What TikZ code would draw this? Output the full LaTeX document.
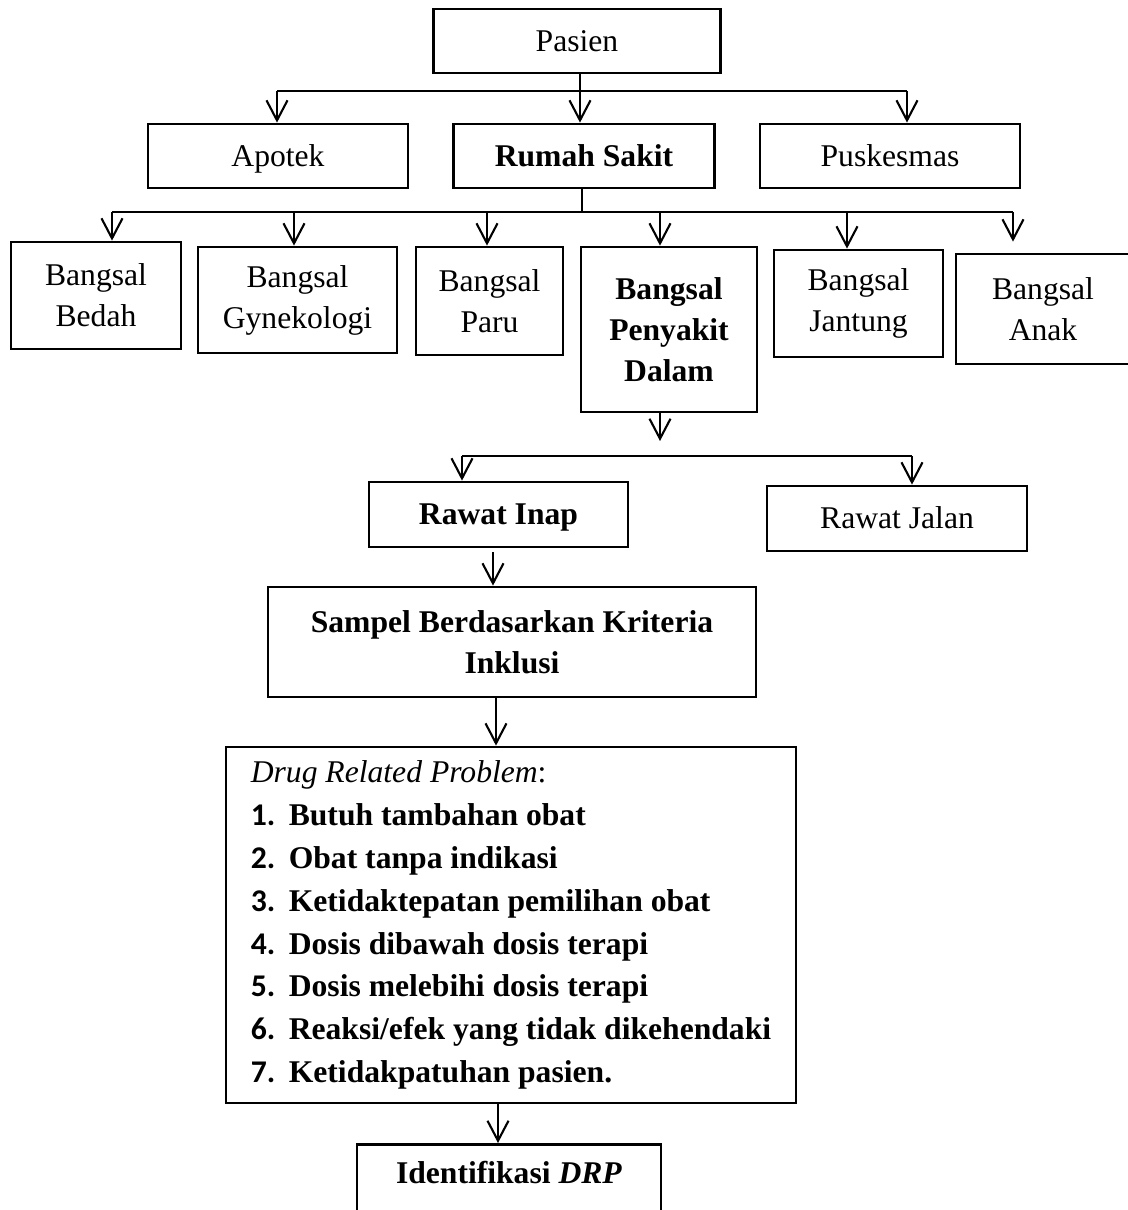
\documentclass[tikz,border=0pt]{standalone}
\usepackage{fontspec}
\setmainfont{Liberation Serif}
\newfontfamily\numfont{Carlito}
\usetikzlibrary{arrows.meta}
\newcommand{\drpitem}[2]{\makebox[0.76cm][l]{\numfont\bfseries #1}\textbf{#2}}

\begin{document}
\begin{tikzpicture}[x=0.02cm,y=-0.02cm,font=\fontsize{18}{23.3}\selectfont]
    % `box' is used for the plain boxes, `mainbox' for the bold path.
    % `single' evens out one-line labels, with or without descenders.
    % `link' is a bare line, `flow' ends in an open arrow.
    \tikzstyle{box} = [draw,line width=1.6pt,align=center]
    \tikzstyle{mainbox} = [box,font=\fontsize{18}{23.3}\selectfont\bfseries]
    \tikzstyle{single} = [text height=16pt,text depth=4.2pt]
    \tikzstyle{link} = [line width=1.2pt]
    \tikzstyle{flow} = [link,-{Straight Barb[length=0.4cm,width=0.42cm]}]
    \useasboundingbox (0,0) rectangle (1128,1210);
    %
    \node[box,single,minimum width=5.74cm,minimum height=1.28cm] (pasien) at (577,41) {Pasien};
    \node[box,single,minimum width=5.2cm,minimum height=1.28cm] (apotek) at (278,156) {Apotek};
    \node[mainbox,single,minimum width=5.22cm,minimum height=1.28cm] (rs) at (584,156) {Rumah Sakit};
    \node[box,single,minimum width=5.2cm,minimum height=1.28cm] (pusk) at (890,156) {Puskesmas};
    %
    \node[box,minimum width=3.4cm,minimum height=2.14cm] (bedah) at (96,295.5) {Bangsal\\Bedah};
    \node[box,minimum width=3.98cm,minimum height=2.12cm] (gyn) at (297.5,300) {Bangsal\\Gynekologi};
    \node[box,minimum width=2.94cm,minimum height=2.16cm] (paru) at (489.5,301) {Bangsal\\Paru};
    \node[mainbox,minimum width=3.52cm,minimum height=3.3cm] (pd) at (669,329.5) {Bangsal\\Penyakit\\Dalam};
    \node[box,minimum width=3.38cm,minimum height=2.14cm] (jantung) at (858.5,303.5) {Bangsal\\Jantung};
    \node[box,minimum width=3.48cm,minimum height=2.2cm] (anak) at (1043,309) {Bangsal\\Anak};
    %
    \node[mainbox,single,minimum width=5.18cm,minimum height=1.3cm] (inap) at (498.5,514.5) {Rawat Inap};
    \node[box,single,minimum width=5.2cm,minimum height=1.3cm] (jalan) at (897,518.5) {Rawat Jalan};
    \node[mainbox,minimum width=9.76cm,minimum height=2.2cm] (sampel) at (512,642) {Sampel Berdasarkan Kriteria\\Inklusi};
    %
    \node[box,minimum width=11.4cm,minimum height=7.12cm,align=left,
          font=\fontsize{18}{24.4}\selectfont] (drp) at (511,925) {%
      \textit{Drug Related Problem}:\\
      \drpitem{1.}{Butuh tambahan obat}\\
      \drpitem{2.}{Obat tanpa indikasi}\\
      \drpitem{3.}{Ketidaktepatan pemilihan obat}\\
      \drpitem{4.}{Dosis dibawah dosis terapi}\\
      \drpitem{5.}{Dosis melebihi dosis terapi}\\
      \drpitem{6.}{Reaksi/efek yang tidak dikehendaki}\\
      \drpitem{7.}{Ketidakpatuhan pasien.}};
    \node[mainbox,anchor=north,minimum width=6.08cm,inner sep=0pt,
          text height=0.78cm,text depth=0.68cm] (ident) at (509,1143) {Identifikasi \textit{DRP}};
    %
    % Pasien to the three places.
    \coordinate (top) at (580,91);
    \coordinate (topL) at (277,91);
    \coordinate (topR) at (907,91);
    \draw[link] (pasien.south -| top) -- (top);
    \draw[link] (topL) -- (topR);
    \draw[flow] (topL) -- (topL |- apotek.north);
    \draw[flow] (top) -- (top |- rs.north);
    \draw[flow] (topR) -- (topR |- pusk.north);
    %
    % Rumah Sakit to the wards.
    \coordinate (mid) at (582,212);
    \coordinate (midL) at (112,212);
    \coordinate (midR) at (1013,212);
    \draw[link] (rs.south -| mid) -- (mid);
    \draw[link] (midL) -- (midR);
    \foreach \x/\n in {112/bedah,294/gyn,487/paru,660/pd,847/jantung}{
      \coordinate (d\n) at (\x,212);
      \draw[flow] (d\n) -- (d\n |- \n.north);
    }
    \draw[flow,shorten >=0.22cm] (midR) -- (midR |- anak.north);
    %
    % Penyakit Dalam to the two kinds of care.
    \coordinate (pdtip) at (660,441);
    \coordinate (careL) at (462,456);
    \coordinate (careR) at (912,456);
    \draw[flow] (pd.south -| pdtip) -- (pdtip);
    \draw[link] (careL) -- (careR);
    \draw[flow] (careL) -- (careL |- inap.north);
    \draw[flow] (careR) -- (careR |- jalan.north);
    %
    % Down the main path.
    \coordinate (s1) at (493,552);
    \coordinate (s2) at (496,697);
    \coordinate (s3) at (498,1103);
    \draw[flow] (s1) -- (s1 |- sampel.north);
    \draw[flow] (sampel.south -| s2) -- (s2 |- drp.north);
    \draw[flow] (drp.south -| s3) -- (s3 |- ident.north);
\end{tikzpicture}
\end{document}
